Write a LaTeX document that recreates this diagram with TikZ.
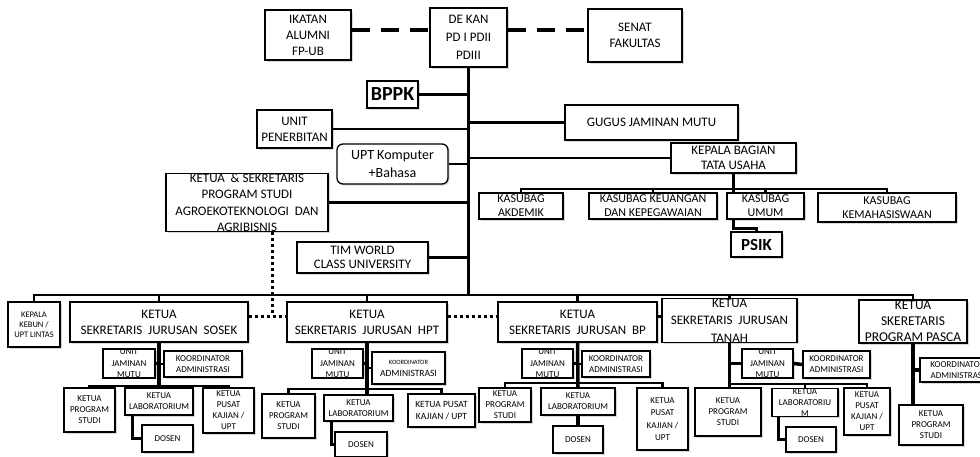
\documentclass[tikz,border=0pt]{standalone}
\usepackage{fontspec}
\setmainfont{Carlito}
\usetikzlibrary{shadows}
\newcommand\myfs[2]{\fontsize{#1}{#2}\selectfont}
\begin{document}
\begin{tikzpicture}[x=1pt,y=-1pt,
  bx/.style={draw=black, line width=1.3pt, fill=white, inner sep=0pt, align=center,
    drop shadow={shadow xshift=1.5pt, shadow yshift=-1.5pt, opacity=0.3}},
  big/.style={font=\myfs{13}{16}},
  mid/.style={font=\myfs{12}{14}},
  sm/.style={font=\myfs{9}{11}},
  ln/.style={line width=2.5pt},
  thk/.style={line width=3.5pt},
  dashln/.style={line width=4pt, dash pattern=on 18pt off 11pt},
  dotln/.style={line width=3pt, dash pattern=on 3pt off 3pt}
]
\useasboundingbox (0,0) rectangle (980,456);
\clip (0,0) rectangle (980,456);
\fill[white] (0,0) rectangle (980,456);

% ---------- top level ----------
\node[bx,big,minimum width=86pt,minimum height=50pt] (ikatan) at (308,35) {IKATAN\\ALUMNI\\FP-UB};
\node[bx,font=\myfs{13}{18},minimum width=77pt,minimum height=59pt] (dekan) at (468.5,37.5) {DE KAN\\PD I PDII\\PDIII};
\node[bx,big,minimum width=94pt,minimum height=53pt] (senat) at (635,35.5) {SENAT\\FAKULTAS};
\node[bx,font=\myfs{20}{22}\bfseries,minimum width=51pt,minimum height=27pt] (bppk) at (392.5,94.5) {BPPK};
\node[bx,big,minimum width=75pt,minimum height=38pt] (penerbitan) at (294.5,129) {UNIT\\PENERBITAN};
\node[bx,big,minimum width=173pt,minimum height=35pt] (gugus) at (651.5,122.5) {GUGUS JAMINAN MUTU};
\node[bx,font=\myfs{14}{18},rounded corners=6pt,minimum width=111pt,minimum height=40pt] (upt) at (392.5,164) {UPT Komputer\\+Bahasa};
\node[bx,font=\myfs{13}{15},minimum width=125pt,minimum height=30pt] (kepala) at (733.5,158) {KEPALA BAGIAN\\TATA USAHA};
\node[bx,font=\myfs{13}{16.5},minimum width=162pt,minimum height=55pt] (agro) at (247,202.5) {KETUA \ \& SEKRETARIS\\PROGRAM STUDI\\AGROEKOTEKNOLOGI \ DAN\\AGRIBISNIS};
\node[bx,font=\myfs{13}{14},minimum width=131pt,minimum height=31pt] (tim) at (362.5,257.5) {TIM WORLD\\CLASS UNIVERSITY};

\node[bx,mid,minimum width=84pt,minimum height=26pt] (akd) at (521,206) {KASUBAG\\AKDEMIK};
\node[bx,mid,minimum width=128pt,minimum height=26pt] (keu) at (653,206) {KASUBAG KEUANGAN\\DAN KEPEGAWAIAN};
\node[bx,mid,minimum width=77pt,minimum height=26pt] (umum) at (765.5,206) {KASUBAG\\UMUM};
\node[bx,mid,minimum width=138pt,minimum height=29pt] (mhs) at (887,207.5) {KASUBAG\\KEMAHASISWAAN};
\node[bx,font=\myfs{17}{19}\bfseries,minimum width=51pt,minimum height=25pt] (psik) at (756.5,244.5) {PSIK};

% ---------- departments ----------
\node[bx,font=\myfs{8.5}{10},minimum width=52pt,minimum height=45pt] (kebun) at (34,324.5) {KEPALA\\KEBUN /\\UPT LINTAS};
\node[bx,big,minimum width=178pt,minimum height=40pt] (sosek) at (159,322) {KETUA\\SEKRETARIS \ JURUSAN \ SOSEK};
\node[bx,big,minimum width=160pt,minimum height=40pt] (hpt) at (367,322) {KETUA\\SEKRETARIS \ JURUSAN \ HPT};
\node[bx,big,minimum width=159pt,minimum height=40pt] (bp) at (577.5,322) {KETUA\\SEKRETARIS \ JURUSAN \ BP};
\node[bx,font=\myfs{13}{17.5},minimum width=135pt,minimum height=41pt] (tanah) at (729.5,320.5) {KETUA\\SEKRETARIS \ JURUSAN\\TANAH};
\node[bx,font=\myfs{13.5}{16},minimum width=108pt,minimum height=43pt] (pasca) at (913,321.5) {KETUA\\SKERETARIS\\PROGRAM PASCA};

% SOSEK
\node[bx,font=\myfs{9}{11.5},minimum width=52pt,minimum height=27pt] (ujm1) at (129,363.5) {UNIT\\JAMINAN\\MUTU};
\node[bx,sm,minimum width=78pt,minimum height=26pt] (koord1) at (203,364) {KOORDINATOR\\ADMINISTRASI};
\node[bx,sm,minimum width=51pt,minimum height=44pt] (ps1) at (89.5,410) {KETUA\\PROGRAM\\STUDI};
\node[bx,sm,minimum width=68pt,minimum height=27pt] (lab1) at (159,401.5) {KETUA\\LABORATORIUM};
\node[bx,sm,minimum width=51pt,minimum height=45pt] (pusat1) at (228.5,410.5) {KETUA\\PUSAT\\KAJIAN /\\UPT};
\node[bx,sm,minimum width=51pt,minimum height=27pt] (dosen1) at (167.5,438.5) {DOSEN};

% HPT
\node[bx,font=\myfs{9}{11.5},minimum width=51pt,minimum height=27pt] (ujm2) at (337.5,363.5) {UNIT\\JAMINAN\\MUTU};
\node[bx,minimum width=73pt,minimum height=32pt] (koord2) at (408.5,368) {{\myfs{6.5}{8}KOORDINATOR}\\{\myfs{9.5}{12}ADMINISTRASI}};
\node[bx,sm,minimum width=53pt,minimum height=44pt] (ps2) at (288.5,416) {KETUA\\PROGRAM\\STUDI};
\node[bx,sm,minimum width=69pt,minimum height=26pt] (lab2) at (358.5,408) {KETUA\\LABORATORIUM};
\node[bx,font=\myfs{9.5}{12},minimum width=67pt,minimum height=33pt] (pusat2) at (441.5,410.5) {KETUA PUSAT\\KAJIAN / UPT};
\node[bx,sm,minimum width=52pt,minimum height=25pt] (dosen2) at (361,444.5) {DOSEN};

% BP
\node[bx,font=\myfs{9}{11.5},minimum width=51pt,minimum height=27pt] (ujm3) at (547.5,363.5) {UNIT\\JAMINAN\\MUTU};
\node[bx,sm,minimum width=68pt,minimum height=26pt] (koord3) at (616,364) {KOORDINATOR\\ADMINISTRASI};
\node[bx,sm,minimum width=52pt,minimum height=34pt] (ps3) at (505,405) {KETUA\\PROGRAM\\STUDI};
\node[bx,sm,minimum width=74pt,minimum height=27pt] (lab3) at (578,401.5) {KETUA\\LABORATORIUM};
\node[bx,font=\myfs{9}{12.5},minimum width=51pt,minimum height=62pt] (pusat3) at (662.5,419) {KETUA\\PUSAT\\KAJIAN /\\UPT};
\node[bx,sm,minimum width=50pt,minimum height=27pt] (dosen3) at (578,439.5) {DOSEN};

% TANAH
\node[bx,font=\myfs{9}{11.5},minimum width=51pt,minimum height=27pt] (ujm4) at (767.5,363.5) {UNIT\\JAMINAN\\MUTU};
\node[bx,sm,minimum width=67pt,minimum height=27pt] (koord4) at (836.5,364.5) {KOORDINATOR\\ADMINISTRASI};
\node[bx,sm,minimum width=66pt,minimum height=48pt] (ps4) at (728,412) {KETUA\\PROGRAM\\STUDI};
\node[bx,sm,minimum width=66pt,minimum height=25pt] (lab4) at (805,402.5) {KETUA\\LABORATORIU\\M};
\node[bx,sm,minimum width=46pt,minimum height=47pt] (pusat4) at (867,411.5) {KETUA\\PUSAT\\KAJIAN /\\UPT};
\node[bx,sm,minimum width=50pt,minimum height=25pt] (dosen4) at (811,439.5) {DOSEN};

% PASCA
\node[bx,sm,minimum width=75pt,minimum height=24pt] (koord5) at (957.5,370) {KOORDINATOR\\ADMINISTRASI};
\node[bx,sm,minimum width=64pt,minimum height=40pt] (ps5) at (931,425) {KETUA\\PROGRAM\\STUDI};

% ---------- connectors ----------
\coordinate (dl) at (0,30);
\draw[dashln] (ikatan.east |- dl) -- (dekan.west |- dl);
\draw[dashln] (dekan.east |- dl) -- (senat.west |- dl);

\coordinate (bus) at (468,295);
\draw[ln] (dekan.south) -- (dekan.south |- bus);
\draw[ln] (bppk.east) -- (bppk.east -| dekan.south);
\draw[ln] (penerbitan.east) -- (penerbitan.east -| dekan.south);
\draw[ln] (gugus.west) -- (gugus.west -| dekan.south);
\draw[ln] (upt.east) -- (upt.east -| dekan.south);
\draw[ln] (kepala.west) -- (kepala.west -| dekan.south);
\draw[ln] (agro.east) -- (agro.east -| dekan.south);
\draw[ln] (tim.east) -- (tim.east -| dekan.south);

\coordinate (kb) at (0,189);
\draw[ln] (kepala.south) -- (kepala.south |- umum.north);
\draw[ln] (akd.north) -- (akd.north |- kb) -- (mhs.north |- kb) -- (mhs.north);
\draw[ln] (keu.north) -- (keu.north |- kb);
\draw[ln] (umum.north) -- (umum.north |- kb);
\draw[ln] (umum.south -| kepala.south) -- ++(0,9) -| (psik.north);

\draw[ln] (kebun.north) -- (kebun.north |- bus) -- (pasca.north |- bus) -- (pasca.north);
\draw[ln] (sosek.north) -- (sosek.north |- bus);
\draw[ln] (hpt.north) -- (hpt.north |- bus);
\draw[ln] (bp.north) -- (bp.north |- bus);
\draw[ln] (tanah.north) -- (tanah.north |- bus);

\coordinate (dj) at (272,316);
\draw[dotln] (agro.south -| dj) -- (dj);
\draw[dotln] (sosek.east |- dj) -- (hpt.west |- dj);
\draw[dotln] (hpt.east |- dj) -- (bp.west |- dj);
\draw[dotln] (bp.east |- dj) -- (tanah.west |- dj);

% SOSEK
\coordinate (sb1) at (0,386);
\draw[thk] (sosek.south) -- (lab1.north);
\draw[ln] (ujm1.east) -- (ujm1.east -| sosek.south);
\draw[ln] (koord1.west) -- (koord1.west -| sosek.south);
\draw[ln] (ps1.north) -- (ps1.north |- sb1) -- (pusat1.north |- sb1) -- (pusat1.north);
\draw[thk] ([xshift=8pt]lab1.south west) |- (dosen1.west);

% HPT
\coordinate (sb2) at (0,389);
\draw[thk] (hpt.south) -- (hpt.south |- lab2.north);
\draw[ln] (ujm2.east) -- (ujm2.east -| hpt.south);
\draw[ln] (koord2.west) -- (koord2.west -| hpt.south);
\draw[ln] (ps2.north) -- (ps2.north |- sb2) -- (pusat2.north |- sb2) -- (pusat2.north);
\draw[thk] ([xshift=8pt]lab2.south west) |- (dosen2.west);

% BP
\coordinate (sb3) at (0,383);
\draw[thk] (bp.south) -- (lab3.north);
\draw[ln] (ujm3.east) -- (ujm3.east -| bp.south);
\draw[ln] (koord3.west) -- (koord3.west -| bp.south);
\draw[ln] (ps3.north) -- (ps3.north |- sb3) -- (pusat3.north |- sb3) -- (pusat3.north);
\draw[thk] (lab3.south) -- (dosen3.north);

% TANAH
\coordinate (sb4) at (0,384);
\draw[thk] (tanah.south) -- (tanah.south |- ps4.north);
\draw[thk] (ujm4.west -| tanah.south) -- (ujm4.west);
\draw[thk] (ujm4.east) -- (koord4.west);
\draw[ln] (tanah.south |- sb4) -- (pusat4.north |- sb4) -- (pusat4.north);
\draw[ln] (lab4.north) -- (lab4.north |- sb4);
\draw[thk] ([xshift=7pt]lab4.south west) |- (dosen4.west);

% PASCA
\draw[thk] (pasca.south) -- (pasca.south |- ps5.north);
\draw[thk] (koord5.west -| pasca.south) -- (koord5.west);
\end{tikzpicture}
\end{document}
